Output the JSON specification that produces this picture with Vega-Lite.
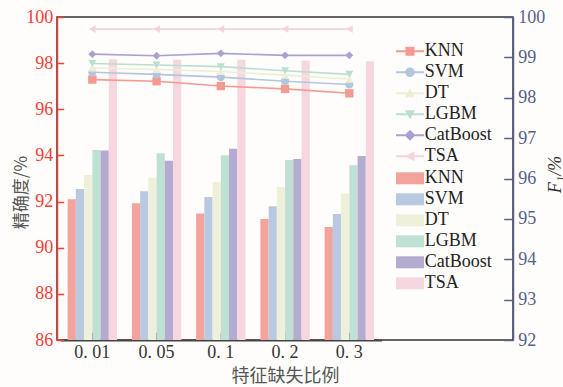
{
  "$schema": "https://vega.github.io/schema/vega-lite/v6.json",
  "width": 456,
  "height": 323,
  "autosize": "none",
  "padding": {"left": 57, "top": 17, "right": 50, "bottom": 47},
  "background": "#fffdfb",
  "config": {"view": {"stroke": "#333333", "strokeWidth": 1.5}, "font": "Liberation Serif"},
  "data": {"values": [
    {"ratio": "0. 01", "model": "KNN", "acc": 92.10, "f1": 98.45},
    {"ratio": "0. 01", "model": "SVM", "acc": 92.55, "f1": 98.63},
    {"ratio": "0. 01", "model": "DT", "acc": 93.15, "f1": 98.74},
    {"ratio": "0. 01", "model": "LGBM", "acc": 94.24, "f1": 98.85},
    {"ratio": "0. 01", "model": "CatBoost", "acc": 94.21, "f1": 99.08},
    {"ratio": "0. 01", "model": "TSA", "acc": 98.17, "f1": 99.70},
    {"ratio": "0. 05", "model": "KNN", "acc": 91.93, "f1": 98.41},
    {"ratio": "0. 05", "model": "SVM", "acc": 92.45, "f1": 98.58},
    {"ratio": "0. 05", "model": "DT", "acc": 93.04, "f1": 98.70},
    {"ratio": "0. 05", "model": "LGBM", "acc": 94.09, "f1": 98.81},
    {"ratio": "0. 05", "model": "CatBoost", "acc": 93.77, "f1": 99.04},
    {"ratio": "0. 05", "model": "TSA", "acc": 98.15, "f1": 99.70},
    {"ratio": "0. 1", "model": "KNN", "acc": 91.48, "f1": 98.29},
    {"ratio": "0. 1", "model": "SVM", "acc": 92.20, "f1": 98.51},
    {"ratio": "0. 1", "model": "DT", "acc": 92.85, "f1": 98.65},
    {"ratio": "0. 1", "model": "LGBM", "acc": 94.01, "f1": 98.77},
    {"ratio": "0. 1", "model": "CatBoost", "acc": 94.29, "f1": 99.10},
    {"ratio": "0. 1", "model": "TSA", "acc": 98.15, "f1": 99.70},
    {"ratio": "0. 2", "model": "KNN", "acc": 91.25, "f1": 98.22},
    {"ratio": "0. 2", "model": "SVM", "acc": 91.80, "f1": 98.41},
    {"ratio": "0. 2", "model": "DT", "acc": 92.63, "f1": 98.56},
    {"ratio": "0. 2", "model": "LGBM", "acc": 93.80, "f1": 98.67},
    {"ratio": "0. 2", "model": "CatBoost", "acc": 93.85, "f1": 99.05},
    {"ratio": "0. 2", "model": "TSA", "acc": 98.11, "f1": 99.70},
    {"ratio": "0. 3", "model": "KNN", "acc": 90.90, "f1": 98.11},
    {"ratio": "0. 3", "model": "SVM", "acc": 91.46, "f1": 98.33},
    {"ratio": "0. 3", "model": "DT", "acc": 92.36, "f1": 98.46},
    {"ratio": "0. 3", "model": "LGBM", "acc": 93.57, "f1": 98.58},
    {"ratio": "0. 3", "model": "CatBoost", "acc": 93.98, "f1": 99.05},
    {"ratio": "0. 3", "model": "TSA", "acc": 98.08, "f1": 99.70}
  ]},
  "encoding": {
    "x": {
      "field": "ratio", "type": "nominal",
      "sort": ["0. 01", "0. 05", "0. 1", "0. 2", "0. 3"],
      "scale": {"domain": ["0. 01", "0. 05", "0. 1", "0. 2", "0. 3"], "range": [3.2, 324.45], "paddingInner": 0.231, "paddingOuter": 0.1155},
      "axis": {
        "title": "特征缺失比例", "labelAngle": 0, "labelFont": "Liberation Serif", "labelFontSize": 18, "labelColor": "#333333",
        "tickSize": -7.7, "tickColor": "#222222", "tickWidth": 1.5, "domainColor": "#444444", "domainWidth": 2,
        "labelPadding": 11, "titleFont": "Noto Sans CJK SC", "titleFontSize": 18, "titleColor": "#555555", "titleFontWeight": "normal",
        "titleX": 228, "titleY": 36, "titleAlign": "center", "titleBaseline": "middle"
      }
    }
  },
  "layer": [
    {
      "mark": {"type": "bar", "clip": true},
      "encoding": {
        "xOffset": {"field": "model", "type": "nominal", "sort": ["KNN", "SVM", "DT", "LGBM", "CatBoost", "TSA"], "scale": {"domain": ["KNN", "SVM", "DT", "LGBM", "CatBoost", "TSA"], "paddingInner": 0, "paddingOuter": 0}},
        "y": {
          "field": "acc", "type": "quantitative",
          "scale": {"domain": [86, 100], "zero": false, "nice": false},
          "axis": {
            "orient": "left", "title": "精确度/%", "values": [86, 88, 90, 92, 94, 96, 98, 100], "grid": false,
            "labelColor": "#EF4136", "domainColor": "#EF4136", "tickColor": "#EF4136", "domainWidth": 1.5, "tickWidth": 1.5,
            "tickSize": -6.7, "labelPadding": 11, "labelFont": "Liberation Serif", "labelFontSize": 18,
            "titleX": -36, "titleY": 175, "titleAngle": 270, "titleAlign": "center", "titleBaseline": "middle",
            "titleFont": "Noto Sans CJK SC", "titleFontSize": 17, "titleColor": "#555555", "titleFontWeight": "normal"
          }
        },
        "y2": {"datum": 86},
        "color": {
          "field": "model", "type": "nominal",
          "scale": {"domain": ["KNN", "SVM", "DT", "LGBM", "CatBoost", "TSA"], "range": ["#F2A49C", "#B8CAE2", "#EEF0DA", "#BFE1D3", "#B3ABD0", "#F6D7E0"]},
          "legend": {
            "title": null, "orient": "none", "legendX": 344, "legendY": 152.3,
            "symbolType": "M-2.8,-1.2H2.8V1.2H-2.8Z", "symbolSize": 100, "symbolStrokeWidth": 0, "symbolOpacity": 1,
            "labelFont": "Liberation Serif", "labelFontSize": 18, "labelColor": "#222222", "labelOffset": 5.7,
            "rowPadding": 3, "padding": 0
          }
        }
      }
    },
    {
      "layer": [
        {
          "mark": {"type": "line", "strokeWidth": 1.6},
          "encoding": {
            "y": {
              "field": "f1", "type": "quantitative",
              "scale": {"domain": [92, 100], "zero": false, "nice": false},
              "axis": {
                "orient": "right", "title": "F₁/%", "values": [92, 93, 94, 95, 96, 97, 98, 99, 100], "grid": false,
                "labelColor": "#56628A", "domainColor": "#56628A", "tickColor": "#56628A", "domainWidth": 1.5, "tickWidth": 1.5,
                "tickSize": -9.3, "labelPadding": 14, "labelFont": "Liberation Serif", "labelFontSize": 18,
                "titleX": 42, "titleY": 157, "titleAngle": 270, "titleAlign": "center", "titleBaseline": "middle",
                "titleFont": "Liberation Serif", "titleFontStyle": "italic", "titleFontSize": 18, "titleColor": "#333333", "titleFontWeight": "normal"
              }
            },
            "color": {
              "field": "model", "type": "nominal",
              "scale": {"domain": ["KNN", "SVM", "DT", "LGBM", "CatBoost", "TSA"], "range": ["#F39A92", "#B3C6E0", "#ECEFD3", "#B9DFCF", "#AAA2CE", "#F4D3DD"]},
              "legend": null
            }
          }
        },
        {
          "mark": {"type": "point", "filled": true, "opacity": 1},
          "encoding": {
            "y": {"field": "f1", "type": "quantitative"},
            "color": {
              "field": "model", "type": "nominal",
              "scale": {"domain": ["KNN", "SVM", "DT", "LGBM", "CatBoost", "TSA"], "range": ["#F39A92", "#B3C6E0", "#ECEFD3", "#B9DFCF", "#AAA2CE", "#F4D3DD"]},
              "legend": null
            },
            "shape": {"field": "model", "type": "nominal", "scale": {"domain": ["KNN", "SVM", "DT", "LGBM", "CatBoost", "TSA"], "range": ["square", "circle", "triangle-up", "triangle-down", "diamond", "triangle-left"]}, "legend": null},
            "size": {"field": "model", "type": "nominal", "scale": {"domain": ["KNN", "SVM", "DT", "LGBM", "CatBoost", "TSA"], "range": [70, 60, 95, 95, 130, 130]}, "legend": null}
          }
        },
        {
          "transform": [{"filter": "false"}],
          "mark": {"type": "point", "filled": true, "opacity": 1, "size": 100},
          "encoding": {
            "y": {"field": "f1", "type": "quantitative"},
            "color": {
              "field": "model", "type": "nominal",
              "scale": {"domain": ["KNN", "SVM", "DT", "LGBM", "CatBoost", "TSA"], "range": ["#F39A92", "#B3C6E0", "#ECEFD3", "#B9DFCF", "#AAA2CE", "#F4D3DD"]},
              "legend": {
                "title": null, "orient": "none", "legendX": 344, "legendY": 25.3,
                "symbolSize": 100, "symbolStrokeWidth": 0, "symbolOpacity": 1,
                "labelFont": "Liberation Serif", "labelFontSize": 18, "labelColor": "#222222", "labelOffset": 5.7,
                "rowPadding": 3, "padding": 0,
                "encode": {"symbols": {"update": {"size": {"value": 100}}}}
              }
            },
            "shape": {
              "field": "model", "type": "nominal",
              "scale": {"domain": ["KNN", "SVM", "DT", "LGBM", "CatBoost", "TSA"], "range": [
                "M-2.8,-0.2H2.8V0.2H-2.8Z M-0.9,-0.9H0.9V0.9H-0.9Z",
                "M-2.8,-0.2H2.8V0.2H-2.8Z M-0.95,0A0.95,0.95 0 1,1 0.95,0A0.95,0.95 0 1,1 -0.95,0Z",
                "M-2.8,-0.2H2.8V0.2H-2.8Z M0,-1L1,0.8H-1Z",
                "M-2.8,-0.2H2.8V0.2H-2.8Z M-1,-0.8H1L0,1Z",
                "M-2.8,-0.2H2.8V0.2H-2.8Z M0,-1.1L1.1,0L0,1.1L-1.1,0Z",
                "M-2.8,-0.2H2.8V0.2H-2.8Z M-1,0L0.9,-1V1Z"
              ]},
              "legend": {
                "title": null, "orient": "none", "legendX": 344, "legendY": 25.3,
                "symbolSize": 100, "symbolStrokeWidth": 0, "symbolOpacity": 1,
                "labelFont": "Liberation Serif", "labelFontSize": 18, "labelColor": "#222222", "labelOffset": 5.7,
                "rowPadding": 3, "padding": 0,
                "encode": {"symbols": {"update": {"size": {"value": 100}}}}
              }
            }
          }
        }
      ],
      "resolve": {"scale": {"shape": "independent", "color": "independent"}}
    }
  ],
  "resolve": {"scale": {"y": "independent", "color": "independent"}}
}
